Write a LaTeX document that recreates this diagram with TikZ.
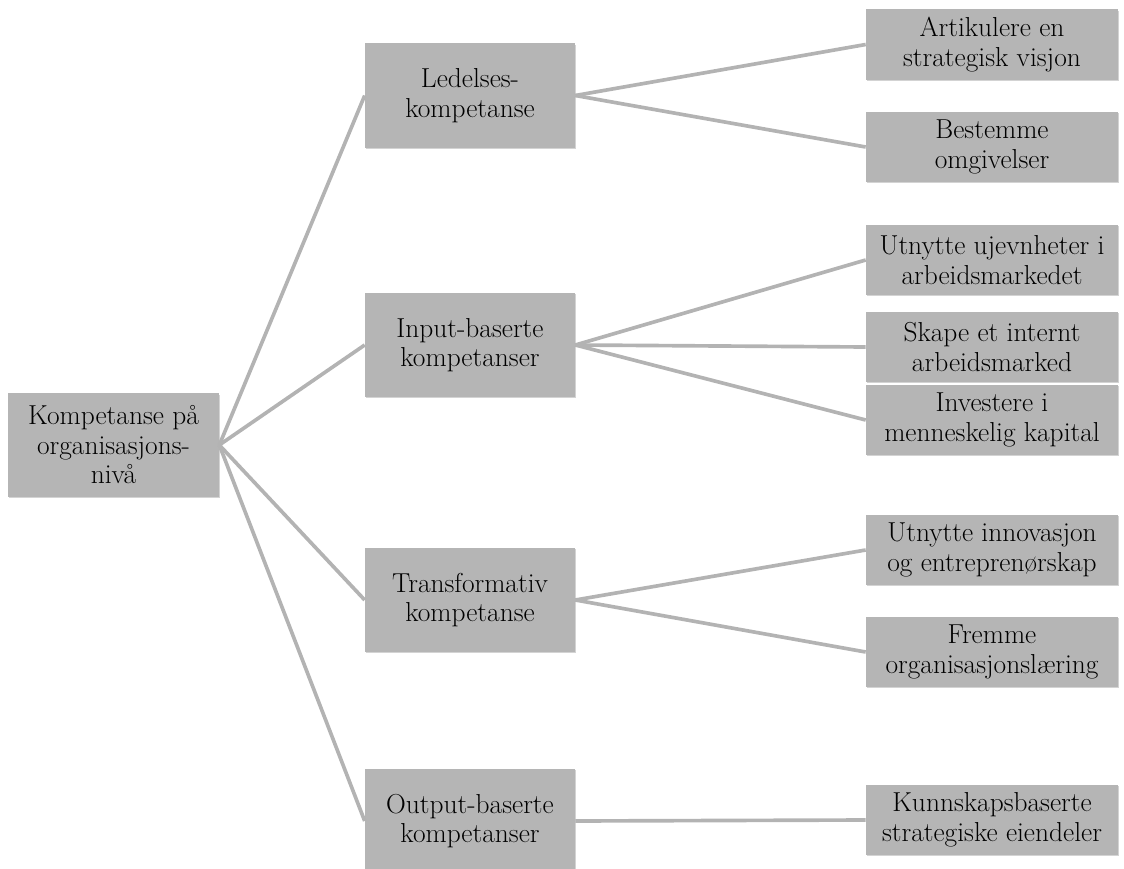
\documentclass[tikz,border=0pt]{standalone}
\usetikzlibrary{shadows}
\definecolor{boxgray}{HTML}{B5B5B5}
\definecolor{linegray}{HTML}{B3B3B3}
\begin{document}
\begin{tikzpicture}[x=0.025cm,y=-0.025cm,
  box/.style={fill=boxgray,inner sep=0pt,align=center,
    font=\fontsize{19.5}{21}\selectfont,
    drop shadow={shadow xshift=0.6pt,shadow yshift=-0.9pt,opacity=0.35}},
  rootbox/.style={box,minimum width=5.275cm,minimum height=2.575cm},
  midbox/.style={box,minimum width=5.25cm,minimum height=2.6cm},
  leafbox/.style={box,minimum width=6.3cm,minimum height=1.75cm},
  link/.style={draw=linegray,line width=2.6pt}]
\useasboundingbox (0,0) rectangle (1124,868);

% root
\node[rootbox] (root) at (113.5,445) {Kompetanse på\\organisasjons-\\nivå};

% competences
\node[midbox] (led) at (470,95.5) {Ledelses-\\kompetanse};
\node[midbox] (inp) at (470,345) {Input-baserte\\kompetanser};
\node[midbox] (tra) at (470,600) {Transformativ\\kompetanse};
\node[midbox] (out) at (470,821) {Output-baserte\\kompetanser};

% activities
\node[leafbox] (art) at (992,44.5) {Artikulere en\\strategisk visjon};
\node[leafbox] (bes) at (992,147) {Bestemme\\omgivelser};
\node[leafbox] (ujv) at (992,260) {Utnytte ujevnheter i\\arbeidsmarkedet};
\node[leafbox] (ska) at (992,347) {Skape et internt\\arbeidsmarked};
\node[leafbox] (inv) at (992,420) {Investere i\\menneskelig kapital};
\node[leafbox] (inn) at (992,550) {Utnytte innovasjon\\og entreprenørskap};
\node[leafbox] (fre) at (992,652) {Fremme\\organisasjonslæring};
\node[leafbox] (kun) at (992,820) {Kunnskapsbaserte\\strategiske eiendeler};

% links
\draw[link] (root.east) -- (led.west);
\draw[link] (root.east) -- (inp.west);
\draw[link] (root.east) -- (tra.west);
\draw[link] (root.east) -- (out.west);
\draw[link] (led.east) -- (art.west);
\draw[link] (led.east) -- (bes.west);
\draw[link] (inp.east) -- (ujv.west);
\draw[link] (inp.east) -- (ska.west);
\draw[link] (inp.east) -- (inv.west);
\draw[link] (tra.east) -- (inn.west);
\draw[link] (tra.east) -- (fre.west);
\draw[link] (out.east) -- (kun.west);

\end{tikzpicture}
\end{document}
